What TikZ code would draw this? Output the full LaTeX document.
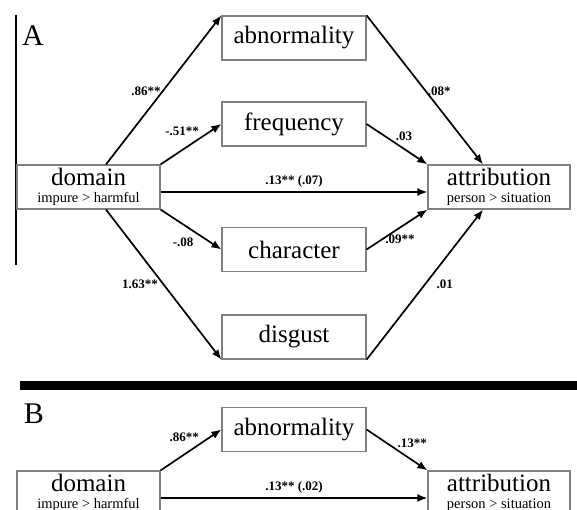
\documentclass[tikz,border=0pt]{standalone}
\usepackage{fontspec}
\setmainfont{Liberation Serif}
\usetikzlibrary{arrows.meta,positioning,calc}

\newcommand{\subline}[1]{{\fontsize{14.5}{15}\selectfont #1}}

\begin{document}
\begin{tikzpicture}[x=1pt, y=-1pt,
  box/.style={draw=gray, line width=1.2pt, minimum width=144pt, minimum height=44pt, inner sep=0pt, font=\fontsize{25}{26}\selectfont},
  var/.style={box, align=center},
  lbl/.style={font=\bfseries\fontsize{13}{13}\selectfont, inner sep=1pt},
  arr/.style={-{Latex[length=10pt,width=8pt]}, line width=1.7pt}]
  \useasboundingbox (0,0) rectangle (577,510);
  \clip (0,0) rectangle (577,510);

  % panel A
  \node (A) [font=\fontsize{30}{30}\selectfont] at (33,36) {A};
  \draw [line width=1.5pt] (16,15) -- (16,265);

  \node (domA) [var, minimum width=143pt] at (88.5,187) {domain\\[-9pt]\subline{impure > harmful}};
  \node (abnA) [box] at (294,38) {abnormality};
  \node (freqA) [box] at (294,124) {frequency};
  \node (charA) [box] at (294,249.5) {character};
  \node (disA) [box] at (294,337) {disgust};
  \node (attA) [var, minimum width=142pt] at (499,187) {attribution\\[-9pt]\subline{person > situation}};

  \path [arr]
  ([xshift=17.5pt]domA.north) edge node[lbl, pos=0.49, left] {.86**} (abnA.north west)
  (domA.north east) edge node[lbl, pos=0.66, anchor=south east] {-.51**} (freqA.west)
  ([yshift=-5pt]domA.east) edge node[lbl, above=3pt] {.13** (.07)} ([yshift=-5pt]attA.west)
  (domA.south east) edge node[lbl, pos=0.37, below=12pt] {-.08} (charA.west)
  ([xshift=17.5pt]domA.south) edge node[lbl, pos=0.5, left=4pt] {1.63**} (disA.south west)
  (abnA.north east) edge node[lbl, pos=0.51, right] {.08*} ([xshift=-16pt]attA.north)
  (freqA.east) edge node[lbl, pos=0.45, anchor=south west] {.03} (attA.north west)
  (charA.east) edge node[lbl, pos=0.55, below=5pt] {.09**} (attA.south west)
  (disA.south east) edge node[lbl, pos=0.5, right=10pt] {.01} ([xshift=-16pt]attA.south);

  % separator
  \fill (20,381) rectangle (577,390);

  % panel B
  \node (B) [font=\fontsize{30}{30}\selectfont] at (34,414) {B};

  \node (domB) [var, minimum width=143pt] at (88.5,493) {domain\\[-9pt]\subline{impure > harmful}};
  \node (abnB) [box] at (294,429.5) {abnormality};
  \node (attB) [var, minimum width=142pt] at (499,493) {attribution\\[-9pt]\subline{person > situation}};

  \path [arr]
  (domB.north east) edge node[lbl, pos=0.66, anchor=south east] {.86**} (abnB.west)
  (abnB.east) edge node[lbl, pos=0.48, anchor=south west] {.13**} (attB.north west)
  ([yshift=-5pt]domB.east) edge node[lbl, above=3pt] {.13** (.02)} ([yshift=-5pt]attB.west);
\end{tikzpicture}
\end{document}
